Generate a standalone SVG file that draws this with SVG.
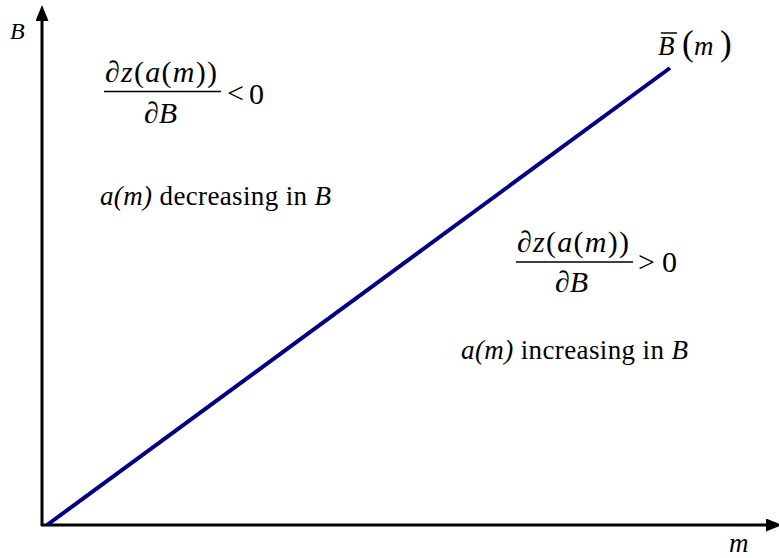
<svg xmlns="http://www.w3.org/2000/svg" width="779" height="558" viewBox="0 0 779 558">
<defs>
<marker id="ah" viewBox="0 0 16 13" refX="0" refY="6.5" markerWidth="16" markerHeight="13" markerUnits="userSpaceOnUse" orient="auto">
<polygon points="0,0 16,6.5 0,13" fill="#000"/>
</marker>
</defs>
<rect width="779" height="558" fill="#fff"/>
<g id="axes" stroke="#000" stroke-width="3" fill="none">
<line x1="42" y1="526" x2="42" y2="21" marker-end="url(#ah)"/>
<line x1="41" y1="525" x2="766" y2="525" marker-end="url(#ah)"/>
</g>
<g id="axis-labels" font-family="Liberation Serif" font-style="italic" fill="#000">
<text x="10" y="39" font-size="24">B</text>
<text x="729" y="552" font-size="27">m</text>
</g>
<g id="connectors">
<line x1="47" y1="525" x2="670" y2="68" stroke="#000080" stroke-width="4"/>
</g>
<g id="curve-label" font-family="Liberation Serif" fill="#000">
<text font-style="italic" x="658" y="55" font-size="27">B</text>
<line x1="661" y1="33" x2="677" y2="33" stroke="#000" stroke-width="1.5"/>
<text x="682" y="55" font-size="35">(</text>
<text font-style="italic" x="694" y="55" font-size="27">m</text>
<text x="720" y="55" font-size="35">)</text>
</g>
<g id="region-upper" font-family="Liberation Serif" fill="#000">
<text x="105" y="82" font-size="30" textLength="112" lengthAdjust="spacing">&#8706;<tspan font-style="italic">z</tspan>(<tspan font-style="italic">a</tspan>(<tspan font-style="italic">m</tspan>))</text>
<line x1="104" y1="91.5" x2="221" y2="91.5" stroke="#000" stroke-width="1.5"/>
<text x="144" y="123" font-size="30">&#8706;<tspan font-style="italic">B</tspan></text>
<text x="227" y="103" font-size="30">&lt;</text>
<text x="249" y="104" font-size="30">0</text>
<text x="100" y="205" font-size="27" textLength="231" lengthAdjust="spacing"><tspan font-style="italic">a(m)</tspan> decreasing in <tspan font-style="italic">B</tspan></text>
</g>
<g id="region-lower" font-family="Liberation Serif" fill="#000">
<text x="517" y="252" font-size="30" textLength="112" lengthAdjust="spacing">&#8706;<tspan font-style="italic">z</tspan>(<tspan font-style="italic">a</tspan>(<tspan font-style="italic">m</tspan>))</text>
<line x1="516" y1="262" x2="633" y2="262" stroke="#000" stroke-width="1.5"/>
<text x="555" y="292" font-size="30">&#8706;<tspan font-style="italic">B</tspan></text>
<text x="638" y="272" font-size="30">&gt;</text>
<text x="662" y="272" font-size="30">0</text>
<text x="461" y="359" font-size="27" textLength="227" lengthAdjust="spacing"><tspan font-style="italic">a(m)</tspan> increasing in <tspan font-style="italic">B</tspan></text>
</g>
</svg>
